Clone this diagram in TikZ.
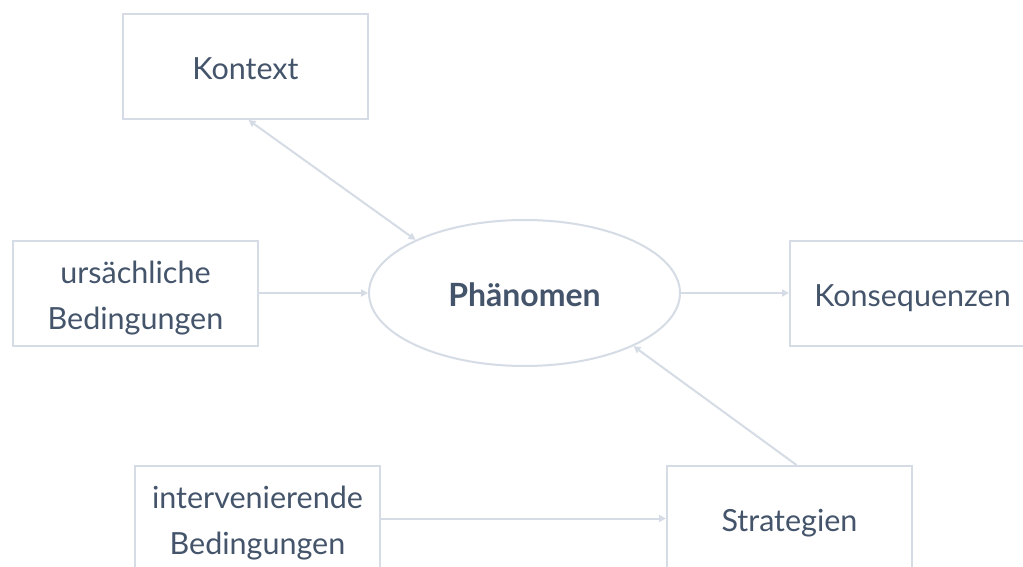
\documentclass[tikz,border=0pt]{standalone}
\usepackage{fontspec}
\setmainfont{Lato}
\usetikzlibrary{arrows.meta,shapes.geometric,calc}
\definecolor{edgecol}{RGB}{214,220,229}
\definecolor{ink}{RGB}{68,84,106}
% box labels sit slightly below the geometric centre
\newcommand\lowlabel[1]{\raisebox{-4pt}[\height][\depth]{\begin{tabular}{@{}c@{}}#1\end{tabular}}}
\begin{document}
\begin{tikzpicture}[x=1pt,y=-1pt,
  box/.style={draw=edgecol,line width=2pt,minimum width=245pt,minimum height=105pt,
    inner sep=0pt,text=ink,font=\fontsize{30.5}{46}\selectfont},
  hub/.style={ellipse,draw=edgecol,line width=2pt,minimum width=311pt,minimum height=146pt,
    inner sep=0pt,text=ink,font=\fontsize{32}{46}\selectfont\bfseries},
  link/.style={draw=edgecol,line width=2pt,-{Triangle[length=7pt,width=7pt]}},
  dlink/.style={draw=edgecol,line width=2pt,{Triangle[length=7pt,width=7pt]}-{Triangle[length=7pt,width=7pt]}}]
\useasboundingbox (0,0) rectangle (1023,567);
\fill[white] (0,0) rectangle (1023,567);
% boxes around the central phenomenon
\node[box] (K) at (245.5,66.5) {\lowlabel{Kontext}};
\node[box] (U) at (135.5,293) {\lowlabel{ursächliche\\Bedingungen}};
\node[hub] (P) at (524.5,293) {\lowlabel{Phänomen}};
\node[box] (C) at (912.5,293) {\lowlabel{Konsequenzen}};
\node[box] (I) at (257.5,518.5) {\lowlabel{intervenierende\\Bedingungen}};
\node[box] (S) at (789.5,518.5) {\lowlabel{Strategien}};
% connectors
\draw[dlink] ($(K.south)+(3,0)$) -- (P.154);
\draw[link] (U.east) -- (P.west);
\draw[link] (P.east) -- (C.west);
\draw[link] (I.east) -- (S.west);
\draw[link] ($(S.north)+(7,0)$) -- (P.-26);
\end{tikzpicture}
\end{document}
